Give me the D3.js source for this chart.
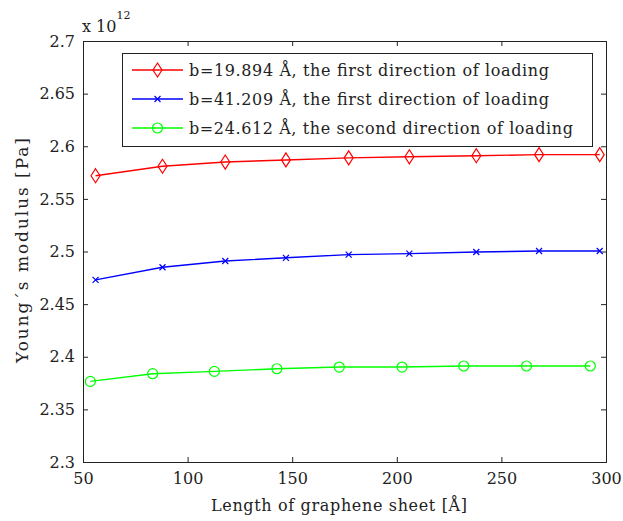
<!DOCTYPE html>
<meta charset="utf-8">
<style>
  body { margin: 0; background: #fff; }
  text { font-family: "DejaVu Serif", serif; fill: #222; }
</style>
<body>
<script src="https://cdn.jsdelivr.net/npm/d3@7"></script>
<script>

    var width = 623,
        height = 521;

    // data (x in Angstrom, y in units of 1e12 Pa)
    var xRed   = [56, 88, 118, 147, 177, 206, 238, 268, 297];
    var yRed   = [2.572, 2.581, 2.585, 2.587, 2.589, 2.590, 2.591, 2.592, 2.592];
    var xBlue  = [56, 88, 118, 147, 177, 206, 238, 268, 297];
    var yBlue  = [2.473, 2.485, 2.491, 2.494, 2.497, 2.498, 2.4995, 2.5005, 2.5005];
    var xGreen = [53.5, 83.3, 112.8, 142.7, 172.5, 202.5, 232, 262, 292.5];
    var yGreen = [2.3766, 2.3839, 2.3861, 2.3886, 2.3902, 2.3902, 2.3912, 2.3912, 2.3912];

    var seriesNames = [
        "b=19.894 \u00c5, the first direction of loading",
        "b=41.209 \u00c5, the first direction of loading",
        "b=24.612 \u00c5, the second direction of loading"
    ];
    var seriesColors = ["#ff0000", "#0000ff", "#00ff00"];
    var seriesMarkers = ["diamond", "cross", "circle"];

    var xTicks = [50, 100, 150, 200, 250, 300];
    var xTickLabels = ["50", "100", "150", "200", "250", "300"];
    var yTicks = [2.3, 2.35, 2.4, 2.45, 2.5, 2.55, 2.6, 2.65, 2.7];
    var yTickLabels = ["2.3", "2.35", "2.4", "2.45", "2.5", "2.55", "2.6", "2.65", "2.7"];

    var margin = {top: 41, right: 17, bottom: 59, left: 83};

    var svg = d3.select("body").append("svg")
            .attr("width", width)
            .attr("height", height);

    var x = d3.scaleLinear().domain([50, 300])
            .range([margin.left, width - margin.right]);
    var y = d3.scaleLinear().domain([2.3, 2.7])
            .range([height - margin.bottom, margin.top]);

    var tickLen = 5;

    // axes with inward ticks, MATLAB style
    var xAxis = svg.append("g")
            .attr("transform", "translate(0," + y(2.3) + ")")
            .call(d3.axisBottom(x).tickValues(xTicks)
                .tickFormat(function(d, i) { return xTickLabels[i]; })
                .tickSizeInner(-tickLen).tickSizeOuter(0).tickPadding(8));
    var xAxisTop = svg.append("g")
            .attr("transform", "translate(0," + y(2.7) + ")")
            .call(d3.axisTop(x).tickValues(xTicks).tickFormat("")
                .tickSizeInner(-tickLen).tickSizeOuter(0));
    var yAxis = svg.append("g")
            .attr("transform", "translate(" + x(50) + ",0)")
            .call(d3.axisLeft(y).tickValues(yTicks)
                .tickFormat(function(d, i) { return yTickLabels[i]; })
                .tickSizeInner(-tickLen).tickSizeOuter(0).tickPadding(8));
    var yAxisRight = svg.append("g")
            .attr("transform", "translate(" + x(300) + ",0)")
            .call(d3.axisRight(y).tickValues(yTicks).tickFormat("")
                .tickSizeInner(-tickLen).tickSizeOuter(0));

    svg.selectAll(".domain").remove();
    svg.selectAll(".tick line").attr("stroke", "#222");
    svg.selectAll(".tick text").attr("font-family", "DejaVu Serif").attr("font-size", 16).attr("fill", "#222");
    xAxis.selectAll(".tick text").attr("dy", "0.9em");

    // plot box
    svg.append("rect")
            .attr("x", x(50) + 0.5)
            .attr("y", y(2.7) + 0.5)
            .attr("width", x(300) - x(50))
            .attr("height", y(2.3) - y(2.7))
            .attr("fill", "none")
            .attr("stroke", "#222");

    // exponent label
    var expo = svg.append("text")
            .attr("x", x(50) - 1)
            .attr("y", 32)
            .attr("font-size", 16);
    expo.append("tspan").text("x 10");
    expo.append("tspan").attr("dy", -13).attr("font-size", 11).text("12");

    // axis titles
    svg.append("text")
            .attr("x", 211)
            .attr("y", 511)
            .attr("font-size", 16)
            .attr("textLength", 256)
            .attr("lengthAdjust", "spacing")
            .text("Length of graphene sheet [\u00c5]");
    svg.append("text")
            .attr("transform", "translate(28,363) rotate(-90)")
            .attr("font-size", 17)
            .attr("textLength", 225)
            .attr("lengthAdjust", "spacing")
            .text("Young\u00b4s modulus [Pa]");

    var series = [
        {xs: xRed, ys: yRed},
        {xs: xBlue, ys: yBlue},
        {xs: xGreen, ys: yGreen}
    ];

    var line = d3.line()
            .x(function(d) { return x(d[0]); })
            .y(function(d) { return y(d[1]); });

    function drawMarker(g, kind, color, cx, cy) {
        if (kind == "diamond") {
            g.append("path")
                .attr("d", "M" + cx + "," + (cy - 7) + "L" + (cx + 4.5) + "," + cy +
                           "L" + cx + "," + (cy + 7) + "L" + (cx - 4.5) + "," + cy + "Z")
                .attr("fill", "none").attr("stroke", color).attr("stroke-width", 1.2);
        } else if (kind == "cross") {
            g.append("path")
                .attr("d", "M" + (cx - 3) + "," + (cy - 3) + "L" + (cx + 3) + "," + (cy + 3) +
                           "M" + (cx - 3) + "," + (cy + 3) + "L" + (cx + 3) + "," + (cy - 3))
                .attr("fill", "none").attr("stroke", color).attr("stroke-width", 1.2);
        } else {
            g.append("circle")
                .attr("cx", cx).attr("cy", cy).attr("r", 5)
                .attr("fill", "none").attr("stroke", color).attr("stroke-width", 1.2);
        }
    }

    series.forEach(function(s, i) {
        var pts = d3.zip(s.xs, s.ys);
        var g = svg.append("g");
        g.append("path")
            .datum(pts)
            .attr("d", line)
            .attr("fill", "none")
            .attr("stroke", seriesColors[i])
            .attr("stroke-width", 1.4);
        pts.forEach(function(p) {
            drawMarker(g, seriesMarkers[i], seriesColors[i], x(p[0]), y(p[1]));
        });
    });

    // legend
    var legendWidths = [360, 360, 384];
    var legend = svg.append("g");
    legend.append("rect")
            .attr("x", 122.5).attr("y", 53.5)
            .attr("width", 470).attr("height", 93)
            .attr("fill", "#fff").attr("stroke", "#222");
    seriesNames.forEach(function(name, i) {
        var ly = 70 + i * 29;
        legend.append("line")
            .attr("x1", 132).attr("x2", 183)
            .attr("y1", ly).attr("y2", ly)
            .attr("stroke", seriesColors[i]).attr("stroke-width", 1.4);
        drawMarker(legend, seriesMarkers[i], seriesColors[i], 157.5, ly);
        legend.append("text")
            .attr("x", 189).attr("y", ly + 6)
            .attr("font-size", 16)
            .attr("textLength", legendWidths[i])
            .attr("lengthAdjust", "spacing")
            .text(name);
    });

</script>
